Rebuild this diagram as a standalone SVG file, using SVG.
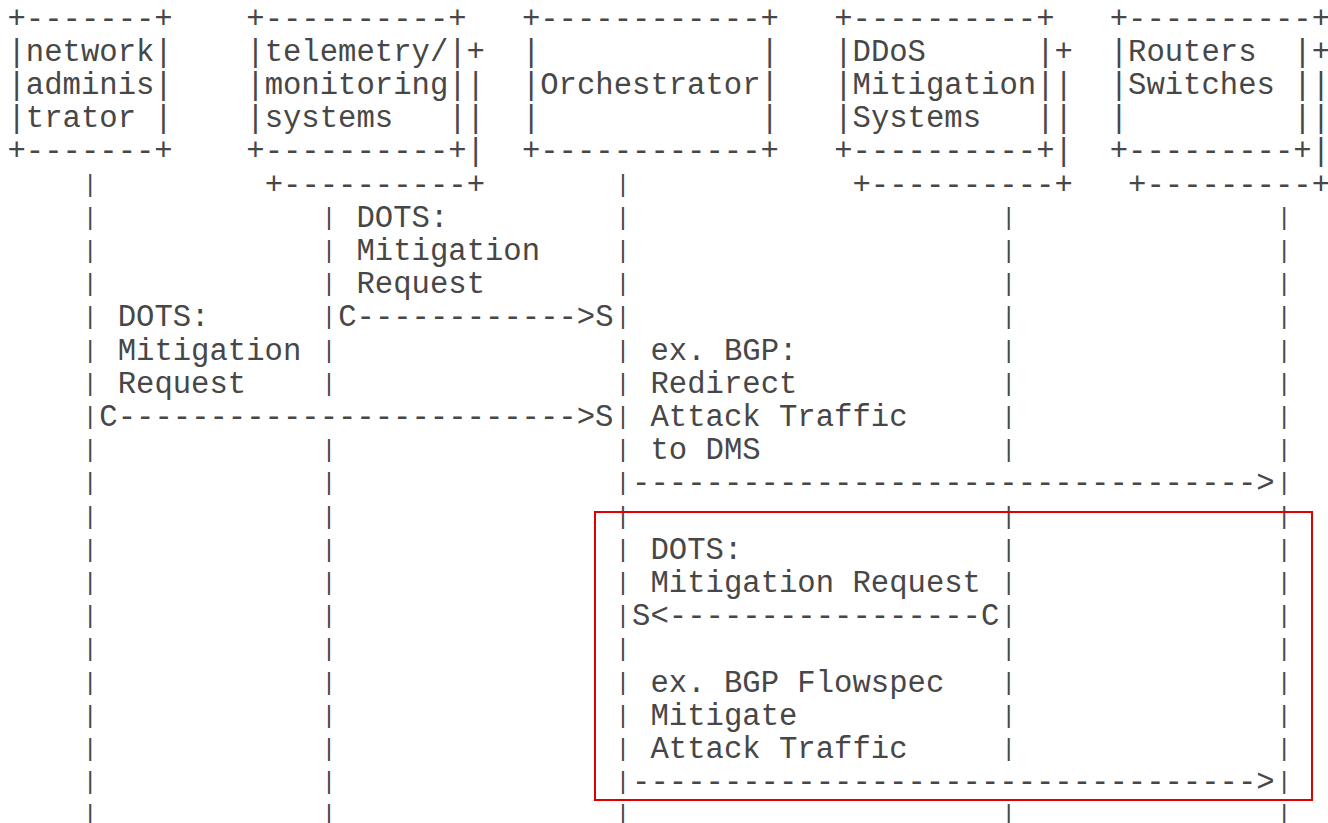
<svg xmlns="http://www.w3.org/2000/svg" width="1328" height="823" viewBox="0 0 1328 823">
<style>
  text { font-family: "Liberation Mono", "Courier New", monospace; font-size: 30.6px; fill: #474747; white-space: pre; }
  #lifelines text { font-size: 24px; }
  .hl { fill: none; stroke: #e00000; stroke-width: 2; }
</style>
<rect width="1328" height="823" fill="#ffffff"/>
<g id="node-network-admin" xml:space="preserve">
  <text x="7.5" y="27.5">+-------+</text>
  <text x="7.5" y="60.7">|network|</text>
  <text x="7.5" y="93.9">|adminis|</text>
  <text x="7.5" y="127.1">|trator |</text>
  <text x="7.5" y="160.3">+-------+</text>
</g>
<g id="node-telemetry" xml:space="preserve">
  <text x="246.3" y="27.5">+----------+</text>
  <text x="246.3" y="60.7">|telemetry/|+</text>
  <text x="246.3" y="93.9">|monitoring||</text>
  <text x="246.3" y="127.1">|systems   ||</text>
  <text x="246.3" y="160.3">+----------+|</text>
  <text x="264.7" y="193.5">+----------+</text>
</g>
<g id="node-orchestrator" xml:space="preserve">
  <text x="521.9" y="27.5">+------------+</text>
  <text x="521.9" y="60.7">|            |</text>
  <text x="521.9" y="93.9">|Orchestrator|</text>
  <text x="521.9" y="127.1">|            |</text>
  <text x="521.9" y="160.3">+------------+</text>
</g>
<g id="node-dms" xml:space="preserve">
  <text x="834.2" y="27.5">+----------+</text>
  <text x="834.2" y="60.7">|DDoS      |+</text>
  <text x="834.2" y="93.9">|Mitigation||</text>
  <text x="834.2" y="127.1">|Systems   ||</text>
  <text x="834.2" y="160.3">+----------+|</text>
  <text x="852.5" y="193.5">+----------+</text>
</g>
<g id="node-routers" xml:space="preserve">
  <text x="1109.7" y="27.5">+----------+</text>
  <text x="1109.7" y="60.7">|Routers  |+</text>
  <text x="1109.7" y="93.9">|Switches ||</text>
  <text x="1109.7" y="127.1">|         ||</text>
  <text x="1109.7" y="160.3">+---------+|</text>
  <text x="1128.1" y="193.5">+---------+</text>
</g>
<g id="connectors" xml:space="preserve">
  <g id="lifelines" transform="translate(2,-1.9)">
    <text id="lifeline-network-admin"><tspan x="81" y="193.5">|</tspan><tspan x="81" y="226.7">|</tspan><tspan x="81" y="259.9">|</tspan><tspan x="81" y="293.1">|</tspan><tspan x="81" y="326.3">|</tspan><tspan x="81" y="359.5">|</tspan><tspan x="81" y="392.7">|</tspan><tspan x="81" y="425.9">|</tspan><tspan x="81" y="459.1">|</tspan><tspan x="81" y="492.3">|</tspan><tspan x="81" y="525.5">|</tspan><tspan x="81" y="558.7">|</tspan><tspan x="81" y="591.9">|</tspan><tspan x="81" y="625.1">|</tspan><tspan x="81" y="658.3">|</tspan><tspan x="81" y="691.5">|</tspan><tspan x="81" y="724.7">|</tspan><tspan x="81" y="757.9">|</tspan><tspan x="81" y="791.1">|</tspan><tspan x="81" y="824.3">|</tspan></text>
    <text id="lifeline-telemetry"><tspan x="319.8" y="226.7">|</tspan><tspan x="319.8" y="259.9">|</tspan><tspan x="319.8" y="293.1">|</tspan><tspan x="319.8" y="326.3">|</tspan><tspan x="319.8" y="359.5">|</tspan><tspan x="319.8" y="392.7">|</tspan><tspan x="319.8" y="459.1">|</tspan><tspan x="319.8" y="492.3">|</tspan><tspan x="319.8" y="525.5">|</tspan><tspan x="319.8" y="558.7">|</tspan><tspan x="319.8" y="591.9">|</tspan><tspan x="319.8" y="625.1">|</tspan><tspan x="319.8" y="658.3">|</tspan><tspan x="319.8" y="691.5">|</tspan><tspan x="319.8" y="724.7">|</tspan><tspan x="319.8" y="757.9">|</tspan><tspan x="319.8" y="791.1">|</tspan><tspan x="319.8" y="824.3">|</tspan></text>
    <text id="lifeline-orchestrator"><tspan x="613.7" y="193.5">|</tspan><tspan x="613.7" y="226.7">|</tspan><tspan x="613.7" y="259.9">|</tspan><tspan x="613.7" y="293.1">|</tspan><tspan x="613.7" y="326.3">|</tspan><tspan x="613.7" y="359.5">|</tspan><tspan x="613.7" y="392.7">|</tspan><tspan x="613.7" y="425.9">|</tspan><tspan x="613.7" y="459.1">|</tspan><tspan x="613.7" y="492.3">|</tspan><tspan x="613.7" y="525.5">|</tspan><tspan x="613.7" y="558.7">|</tspan><tspan x="613.7" y="591.9">|</tspan><tspan x="613.7" y="625.1">|</tspan><tspan x="613.7" y="658.3">|</tspan><tspan x="613.7" y="691.5">|</tspan><tspan x="613.7" y="724.7">|</tspan><tspan x="613.7" y="757.9">|</tspan><tspan x="613.7" y="791.1">|</tspan><tspan x="613.7" y="824.3">|</tspan></text>
    <text id="lifeline-dms"><tspan x="999.5" y="226.7">|</tspan><tspan x="999.5" y="259.9">|</tspan><tspan x="999.5" y="293.1">|</tspan><tspan x="999.5" y="326.3">|</tspan><tspan x="999.5" y="359.5">|</tspan><tspan x="999.5" y="392.7">|</tspan><tspan x="999.5" y="425.9">|</tspan><tspan x="999.5" y="459.1">|</tspan><tspan x="999.5" y="525.5">|</tspan><tspan x="999.5" y="558.7">|</tspan><tspan x="999.5" y="591.9">|</tspan><tspan x="999.5" y="625.1">|</tspan><tspan x="999.5" y="658.3">|</tspan><tspan x="999.5" y="691.5">|</tspan><tspan x="999.5" y="724.7">|</tspan><tspan x="999.5" y="757.9">|</tspan><tspan x="999.5" y="824.3">|</tspan></text>
    <text id="lifeline-routers"><tspan x="1275" y="226.7">|</tspan><tspan x="1275" y="259.9">|</tspan><tspan x="1275" y="293.1">|</tspan><tspan x="1275" y="326.3">|</tspan><tspan x="1275" y="359.5">|</tspan><tspan x="1275" y="392.7">|</tspan><tspan x="1275" y="425.9">|</tspan><tspan x="1275" y="459.1">|</tspan><tspan x="1275" y="492.3">|</tspan><tspan x="1275" y="525.5">|</tspan><tspan x="1275" y="558.7">|</tspan><tspan x="1275" y="591.9">|</tspan><tspan x="1275" y="625.1">|</tspan><tspan x="1275" y="658.3">|</tspan><tspan x="1275" y="691.5">|</tspan><tspan x="1275" y="724.7">|</tspan><tspan x="1275" y="757.9">|</tspan><tspan x="1275" y="791.1">|</tspan><tspan x="1275" y="824.3">|</tspan></text>
  </g>
  <g id="msg-telemetry-orchestrator">
    <text x="356.5" y="226.7">DOTS:</text>
    <text x="356.5" y="259.9">Mitigation</text>
    <text x="356.5" y="293.1">Request</text>
    <text x="338.2" y="326.3">C------------&gt;S</text>
  </g>
  <g id="msg-admin-orchestrator">
    <text x="117.7" y="326.3">DOTS:</text>
    <text x="117.7" y="359.5">Mitigation</text>
    <text x="117.7" y="392.7">Request</text>
    <text x="99.35" y="425.9">C-------------------------&gt;S</text>
  </g>
  <g id="msg-orchestrator-routers-redirect">
    <text x="650.5" y="359.5">ex. BGP:</text>
    <text x="650.5" y="392.7">Redirect</text>
    <text x="650.5" y="425.9">Attack Traffic</text>
    <text x="650.5" y="459.1">to DMS</text>
    <text x="632.1" y="492.3">----------------------------------&gt;</text>
  </g>
  <g id="msg-dms-orchestrator">
    <text x="650.5" y="558.7">DOTS:</text>
    <text x="650.5" y="591.9">Mitigation Request</text>
    <text x="632.1" y="625.1">S&lt;-----------------C</text>
  </g>
  <g id="msg-orchestrator-routers-flowspec">
    <text x="650.5" y="691.5">ex. BGP Flowspec</text>
    <text x="650.5" y="724.7">Mitigate</text>
    <text x="650.5" y="757.9">Attack Traffic</text>
    <text x="632.1" y="791.1">----------------------------------&gt;</text>
  </g>
</g>
<rect class="hl" x="595" y="512" width="717" height="288"/>
</svg>
